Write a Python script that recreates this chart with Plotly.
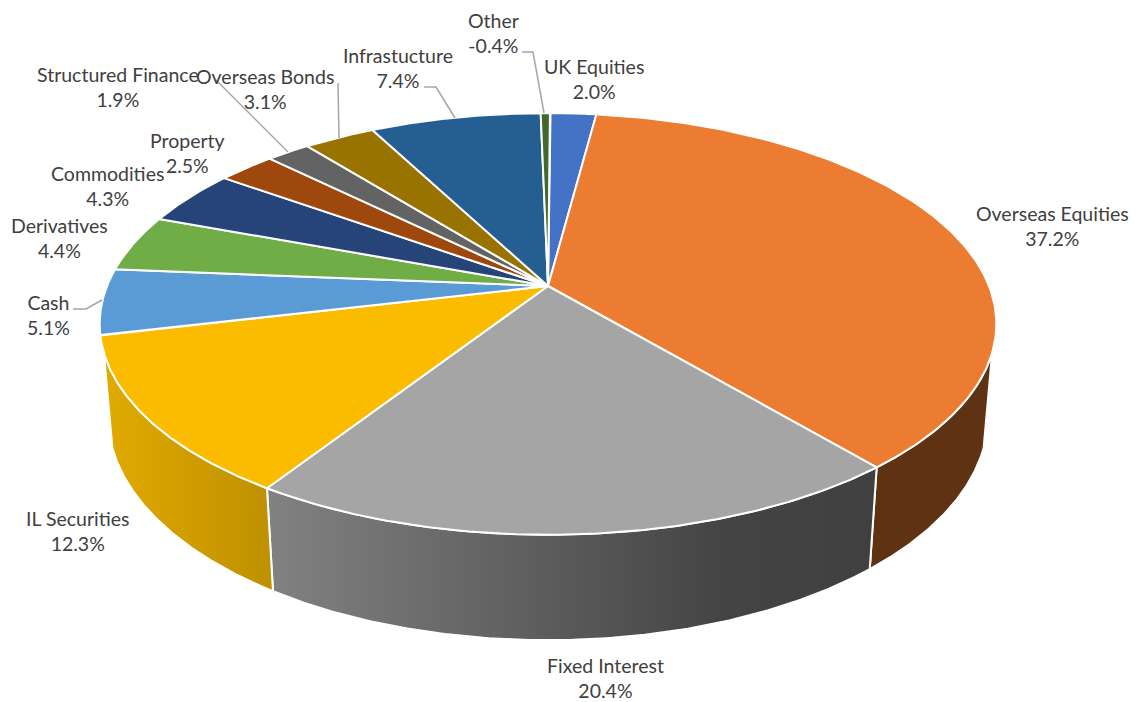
import numpy as np
import plotly.graph_objects as go

# Portfolio allocation, in clockwise order from twelve o'clock
categories = ["UK Equities", "Overseas Equities", "Fixed Interest", "IL Securities",
              "Cash", "Derivatives", "Commodities", "Property", "Structured Finance",
              "Overseas Bonds", "Infrastucture", "Other"]
shares = [2.0, 37.2, 20.4, 12.3, 5.1, 4.4, 4.3, 2.5, 1.9, 3.1, 7.4, -0.4]
top_colors = ["#4472C4", "#EB7C32", "#A5A5A5", "#FBBC00", "#5B9BD5", "#70AD47",
              "#264478", "#9E480E", "#636363", "#997300", "#255E91", "#43682B"]
wall_fills = {
    "Overseas Equities": [[0, "#5F3214"], [1, "#5F3214"]],
    "Fixed Interest": [[0, "#828282"], [0.75, "#444444"], [1, "#404040"]],
    "IL Securities": [[0, "#E2AA00"], [1, "#BE9000"]],
}

# Perspective of the disc: pivot, scale of the face, depth of the wall
PIVOT_X, PIVOT_Y = 548.0, 286.0
SCALE_X, SCALE_Y = 441.0, 204.0
TILT = 0.18
WALL_DROP, WALL_SHRINK = 93.0, 0.0185
WALL_FROM, WALL_TO = 108.0, 252.0
START_ANGLE = 0.3


def project(theta_deg, wall=False):
    t = np.radians(theta_deg)
    u, v = np.sin(t), np.cos(t)
    drop = WALL_DROP if wall else 0.0
    d = 1 + (WALL_SHRINK if wall else 0.0) + TILT * v
    return PIVOT_X + SCALE_X * u / d, PIVOT_Y - (SCALE_Y * v - drop) / d


# Slices are sized by magnitude, so the negative holding still gets a sliver
mags = np.abs(shares)
edges = START_ANGLE + np.concatenate([[0], np.cumsum(mags)]) / mags.sum() * 360

fig = go.Figure()

for i, name in enumerate(categories):
    if name not in wall_fills:
        continue
    a, b = max(edges[i], WALL_FROM), min(edges[i + 1], WALL_TO)
    arc = np.linspace(a, b, 120)
    xt, yt = project(arc)
    xb, yb = project(arc[::-1], wall=True)
    xs = np.concatenate([xt, xb, xt[:1]])
    ys = np.concatenate([yt, yb, yt[:1]])
    fig.add_trace(go.Scatter(
        x=xs, y=ys, mode="lines", fill="toself",
        line=dict(color="white", width=2),
        fillgradient=dict(type="horizontal", start=float(xs.min()), stop=float(xs.max()),
                          colorscale=wall_fills[name]),
        hoverinfo="skip", showlegend=False,
    ))

for i, name in enumerate(categories):
    arc = np.linspace(edges[i], edges[i + 1], 160)
    xa, ya = project(arc)
    fig.add_trace(go.Scatter(
        x=np.concatenate([[PIVOT_X], xa, [PIVOT_X]]),
        y=np.concatenate([[PIVOT_Y], ya, [PIVOT_Y]]),
        mode="lines", fill="toself", fillcolor=top_colors[i],
        line=dict(color="white", width=2),
        name=name, text=f"{name}: {shares[i]:.1f}%", hoverinfo="text", showlegend=False,
    ))

# Leader lines for the labels that sit away from their slices
leaders = [
    ([522, 533, 544], [52, 52, 113]),
    ([424, 436, 455], [87, 87, 118]),
    ([338, 339], [83, 138]),
    ([216, 288], [80, 152]),
    ([73, 86, 102], [309, 309, 300]),
]
for lx, ly in leaders:
    fig.add_trace(go.Scatter(x=lx, y=ly, mode="lines", line=dict(color="#A6A6A6", width=1.5),
                             hoverinfo="skip", showlegend=False))

label_spots = {
    "UK Equities": (594, 78.5),
    "Overseas Equities": (1052, 225.5),
    "Fixed Interest": (605, 678),
    "IL Securities": (77, 530.5),
    "Cash": (48, 315),
    "Derivatives": (59, 237.5),
    "Commodities": (107, 186),
    "Property": (187, 153),
    "Structured Finance": (118, 87),
    "Overseas Bonds": (265, 89),
    "Infrastucture": (398, 68),
    "Other": (493, 32.5),
}
for name, value in zip(categories, shares):
    px, py = label_spots[name]
    fig.add_annotation(x=px, y=py, xref="x", yref="y", showarrow=False,
                       text=f"{name}<br>{value:.1f}%", align="center",
                       font=dict(family="Lato, Carlito, sans-serif", size=19.5, color="#404040"))

fig.update_layout(
    width=1136, height=702, autosize=False,
    margin=dict(l=0, r=0, t=0, b=0),
    paper_bgcolor="white", plot_bgcolor="white",
    xaxis=dict(range=[0, 1136], visible=False, fixedrange=True),
    yaxis=dict(range=[702, 0], visible=False, fixedrange=True),
)
fig.write_html("out.html")
